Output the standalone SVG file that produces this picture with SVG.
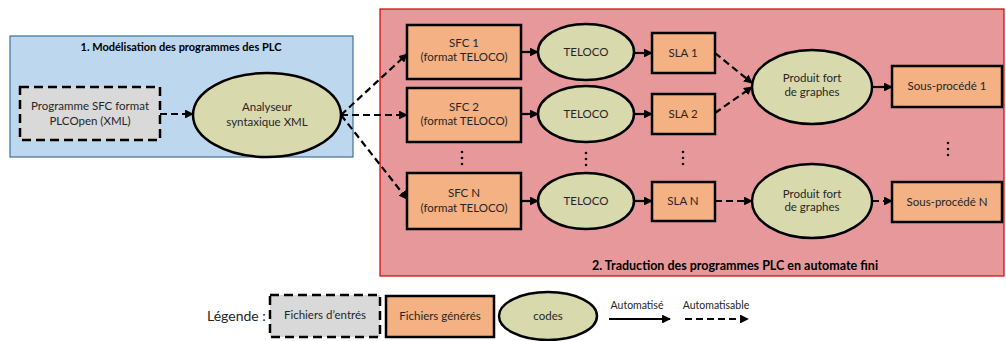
<svg xmlns="http://www.w3.org/2000/svg" width="1006" height="341" viewBox="0 0 1006 341">
<defs>
<marker id="ah" viewBox="0 0 10 10" refX="9" refY="5" markerWidth="4" markerHeight="4" orient="auto" markerUnits="strokeWidth">
<path d="M0,0 L10,5 L0,10 z" fill="#000"/>
</marker>
<style>
.t{font-family:Lato,"Liberation Sans",sans-serif;font-size:11.5px;fill:#262626;text-anchor:middle}
.tb{font-family:Lato,"Liberation Sans",sans-serif;font-size:11px;font-weight:bold;fill:#000;text-anchor:middle}
.in{fill:#d9d9d9;stroke:#000;stroke-width:2.5;stroke-dasharray:9 5}
.gen{fill:#f4b183;stroke:#000;stroke-width:2.5}
.code{fill:#d9d9ae;stroke:#000;stroke-width:2.5}
.c{fill:none;stroke:#000;stroke-width:2.2;marker-end:url(#ah)}
.d{stroke-dasharray:7 4}
.dot{fill:#000}
</style>
</defs>
<rect width="1006" height="341" fill="#fff"/>

<g id="zone1">
<rect x="10" y="36" width="343" height="121" fill="#bdd7ee" stroke="#41719c" stroke-width="1.2"/>
<text class="tb" x="181" y="51">1. Modélisation des programmes des PLC</text>
</g>
<g id="zone2">
<rect x="380" y="9" width="624" height="267" fill="#e6989b" stroke="#d00000" stroke-width="1.2"/>
<text class="tb" x="735" y="270" style="font-size:12.5px">2. Traduction des programmes PLC en automate fini</text>
</g>

<g id="plcopen">
<rect class="in" x="20" y="87" width="140" height="53"/>
<text class="t" x="90" y="110">Programme SFC format</text>
<text class="t" x="90" y="125">PLCOpen (XML)</text>
</g>
<g id="analyseur">
<ellipse class="code" cx="267" cy="115" rx="74" ry="42"/>
<text class="t" x="267" y="111">Analyseur</text>
<text class="t" x="267" y="126">syntaxique XML</text>
</g>

<g id="sfc1">
<rect class="gen" x="407" y="25" width="114" height="54"/>
<text class="t" x="464" y="47">SFC 1</text>
<text class="t" x="464" y="61">(format TELOCO)</text>
</g>
<g id="sfc2">
<rect class="gen" x="407" y="88" width="114" height="54"/>
<text class="t" x="464" y="111">SFC 2</text>
<text class="t" x="464" y="125">(format TELOCO)</text>
</g>
<g id="sfcn">
<rect class="gen" x="407" y="173" width="114" height="56"/>
<text class="t" x="464" y="197">SFC N</text>
<text class="t" x="464" y="212">(format TELOCO)</text>
</g>

<g id="teloco1">
<ellipse class="code" cx="586" cy="52" rx="48" ry="28"/>
<text class="t" x="586" y="56">TELOCO</text>
</g>
<g id="teloco2">
<ellipse class="code" cx="586" cy="114" rx="48" ry="28"/>
<text class="t" x="586" y="118">TELOCO</text>
</g>
<g id="telocon">
<ellipse class="code" cx="586" cy="201" rx="48" ry="28"/>
<text class="t" x="586" y="205">TELOCO</text>
</g>

<g id="sla1">
<rect class="gen" x="652" y="33" width="63" height="40"/>
<text class="t" x="683" y="57">SLA 1</text>
</g>
<g id="sla2">
<rect class="gen" x="652" y="94" width="63" height="40"/>
<text class="t" x="683" y="118">SLA 2</text>
</g>
<g id="slan">
<rect class="gen" x="652" y="182" width="63" height="39"/>
<text class="t" x="683" y="205">SLA N</text>
</g>

<g id="produit1">
<ellipse class="code" cx="812" cy="87" rx="60" ry="37"/>
<text class="t" x="812" y="82">Produit fort</text>
<text class="t" x="812" y="96">de graphes</text>
</g>
<g id="produitn">
<ellipse class="code" cx="812" cy="201" rx="60" ry="37"/>
<text class="t" x="812" y="198">Produit fort</text>
<text class="t" x="812" y="211">de graphes</text>
</g>

<g id="sousproc1">
<rect class="gen" x="892" y="66" width="110" height="41"/>
<text class="t" x="947" y="90">Sous-procédé 1</text>
</g>
<g id="sousprocn">
<rect class="gen" x="892" y="182" width="110" height="40"/>
<text class="t" x="947" y="206">Sous-procédé N</text>
</g>

<g id="ellipsis">
<circle class="dot" cx="462" cy="152" r="1.3"/><circle class="dot" cx="462" cy="158" r="1.3"/><circle class="dot" cx="462" cy="164" r="1.3"/>
<circle class="dot" cx="586" cy="153" r="1.3"/><circle class="dot" cx="586" cy="159" r="1.3"/><circle class="dot" cx="586" cy="165" r="1.3"/>
<circle class="dot" cx="683" cy="152" r="1.3"/><circle class="dot" cx="683" cy="158" r="1.3"/><circle class="dot" cx="683" cy="164" r="1.3"/>
<circle class="dot" cx="948" cy="143" r="1.3"/><circle class="dot" cx="948" cy="149" r="1.3"/><circle class="dot" cx="948" cy="155" r="1.3"/>
</g>

<g id="connectors">
<line class="c d" x1="160" y1="114" x2="193" y2="114"/>
<line class="c d" x1="341" y1="115" x2="407" y2="54"/>
<line class="c d" x1="341" y1="115" x2="407" y2="115"/>
<line class="c d" x1="341" y1="115" x2="407" y2="199"/>
<line class="c" x1="521" y1="52" x2="538" y2="52"/>
<line class="c" x1="521" y1="114" x2="538" y2="114"/>
<line class="c" x1="521" y1="201" x2="538" y2="201"/>
<line class="c" x1="634" y1="53" x2="652" y2="53"/>
<line class="c" x1="634" y1="114" x2="652" y2="114"/>
<line class="c" x1="634" y1="201" x2="652" y2="201"/>
<line class="c d" x1="715" y1="53" x2="752" y2="83"/>
<line class="c d" x1="715" y1="113" x2="752" y2="87"/>
<line class="c" x1="872" y1="87" x2="892" y2="87"/>
<line class="c d" x1="715" y1="201" x2="752" y2="201"/>
<line class="c d" x1="872" y1="201" x2="892" y2="201"/>
</g>

<g id="legend">
<text x="207" y="321" style="font-family:Lato,'Liberation Sans',sans-serif;font-size:14px;fill:#262626">Légende :</text>
<rect class="in" x="270" y="295" width="110" height="42"/>
<text class="t" x="325" y="319">Fichiers d’entrés</text>
<rect class="gen" x="386" y="296" width="108" height="41"/>
<text class="t" x="440" y="320">Fichiers générés</text>
<ellipse class="code" cx="548" cy="316" rx="49" ry="24"/>
<text class="t" x="548" y="320">codes</text>
<text class="t" x="637" y="309" style="font-size:10.5px">Automatisé</text>
<line class="c" x1="609" y1="319" x2="670" y2="319"/>
<text class="t" x="716" y="309" style="font-size:10.5px">Automatisable</text>
<line class="c d" x1="685" y1="319" x2="748" y2="319"/>
</g>
</svg>
